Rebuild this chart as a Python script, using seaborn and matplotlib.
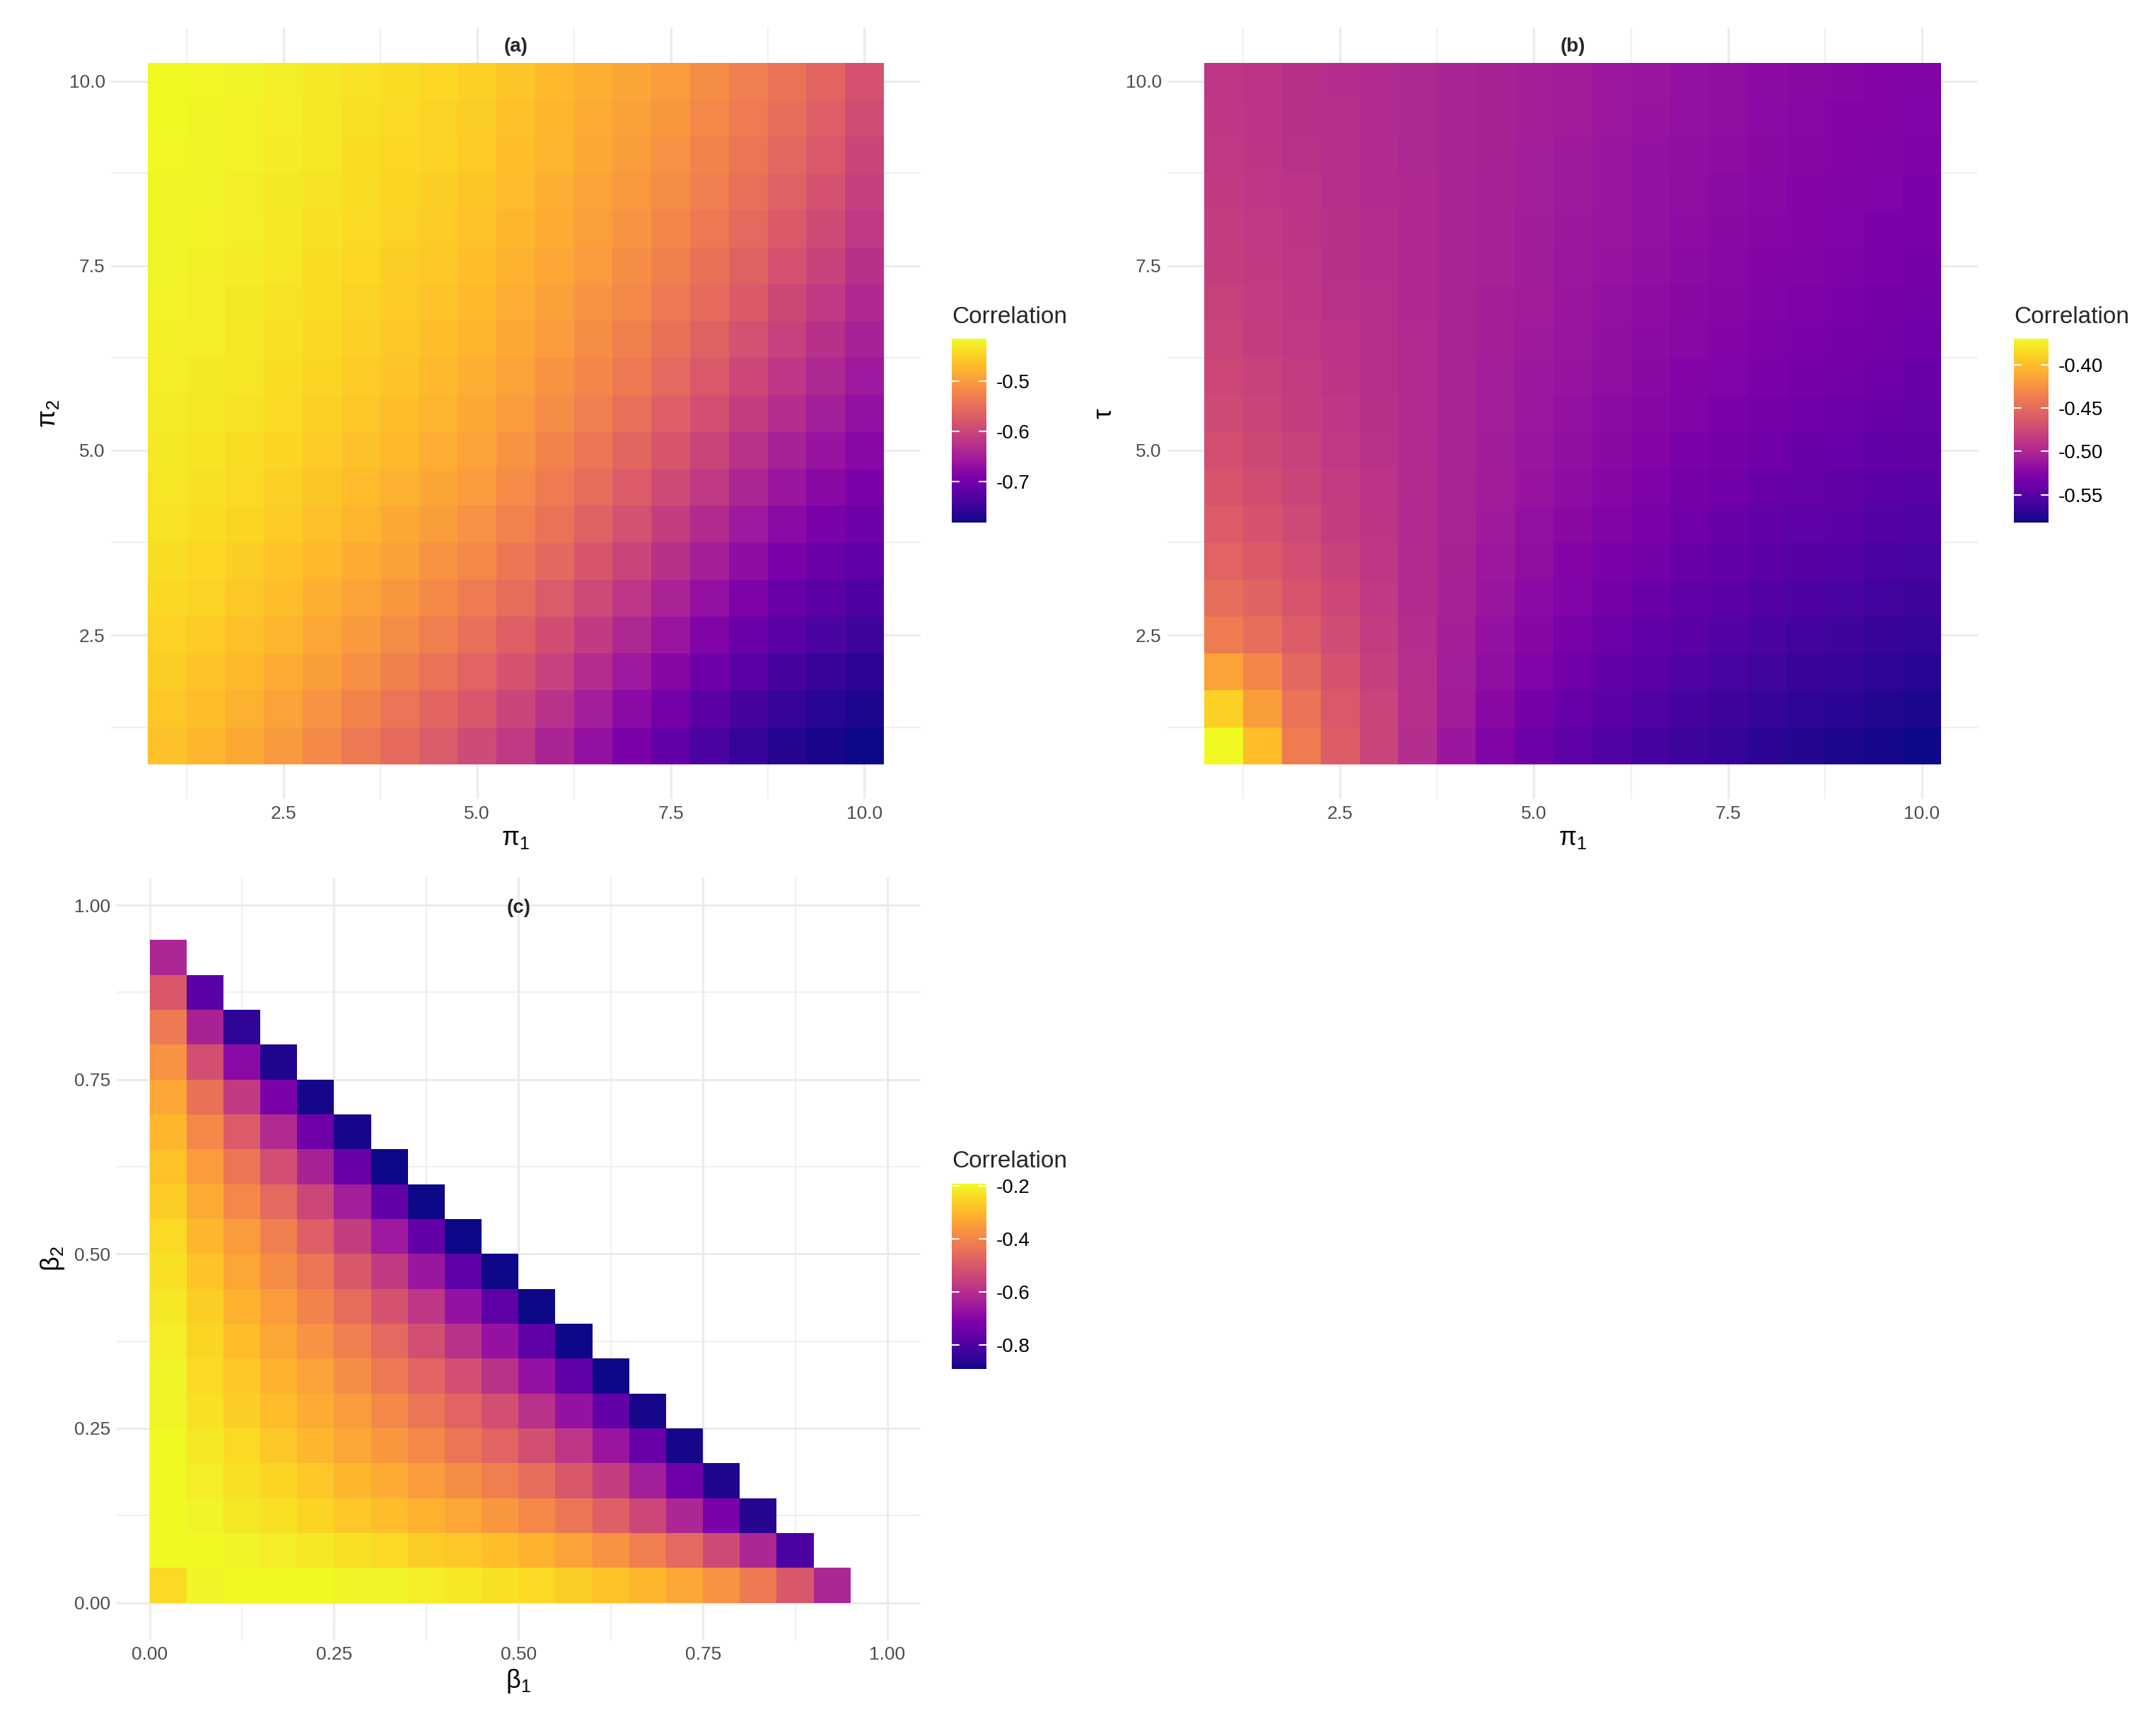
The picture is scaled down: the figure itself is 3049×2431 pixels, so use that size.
import numpy as np
import matplotlib
matplotlib.use("Agg")
import matplotlib.pyplot as plt
import seaborn as sns

sns.set_theme(style="white")
plt.rcParams['font.family'] = ['Liberation Sans', 'DejaVu Sans']

# ---------------- data ----------------
pi1_vals = [1.0 + 0.5 * k for k in range(19)]
pi2_vals = [1.0 + 0.5 * k for k in range(19)]
tau_vals = [1.0 + 0.5 * k for k in range(19)]

# panel (a): rows = pi2 from 1 to 10, cols = pi1 from 1 to 10
corr_a = [
 [-.463,-.473,-.486,-.502,-.519,-.537,-.555,-.574,-.593,-.617,-.642,-.668,-.693,-.716,-.737,-.754,-.767,-.776,-.782],
 [-.458,-.467,-.479,-.493,-.509,-.525,-.542,-.560,-.578,-.600,-.625,-.651,-.676,-.700,-.722,-.740,-.754,-.765,-.773],
 [-.453,-.461,-.471,-.484,-.498,-.513,-.529,-.545,-.562,-.583,-.607,-.632,-.657,-.682,-.705,-.724,-.740,-.752,-.762],
 [-.448,-.455,-.464,-.476,-.489,-.502,-.516,-.531,-.547,-.567,-.589,-.613,-.638,-.663,-.687,-.707,-.724,-.737,-.748],
 [-.443,-.449,-.457,-.468,-.480,-.492,-.505,-.519,-.533,-.552,-.573,-.595,-.619,-.644,-.668,-.690,-.708,-.722,-.734],
 [-.439,-.444,-.451,-.461,-.472,-.483,-.495,-.508,-.521,-.539,-.558,-.579,-.602,-.626,-.650,-.673,-.692,-.707,-.720],
 [-.435,-.440,-.446,-.455,-.465,-.475,-.486,-.498,-.510,-.527,-.545,-.565,-.586,-.609,-.633,-.656,-.676,-.692,-.706],
 [-.432,-.436,-.442,-.450,-.459,-.469,-.479,-.490,-.501,-.517,-.534,-.552,-.572,-.594,-.617,-.640,-.661,-.678,-.693],
 [-.429,-.433,-.438,-.446,-.454,-.463,-.472,-.482,-.493,-.508,-.524,-.541,-.559,-.580,-.602,-.625,-.646,-.664,-.680],
 [-.427,-.430,-.435,-.442,-.450,-.458,-.467,-.476,-.486,-.500,-.515,-.531,-.548,-.567,-.588,-.611,-.632,-.651,-.668],
 [-.425,-.428,-.432,-.439,-.446,-.454,-.462,-.471,-.480,-.493,-.507,-.522,-.538,-.556,-.576,-.598,-.619,-.638,-.657],
 [-.423,-.426,-.430,-.436,-.443,-.450,-.458,-.466,-.475,-.487,-.500,-.514,-.529,-.546,-.565,-.586,-.607,-.626,-.646],
 [-.421,-.424,-.428,-.434,-.440,-.447,-.454,-.462,-.470,-.482,-.494,-.507,-.521,-.537,-.555,-.575,-.596,-.615,-.636],
 [-.420,-.423,-.427,-.432,-.438,-.444,-.451,-.458,-.466,-.477,-.489,-.501,-.514,-.529,-.546,-.565,-.585,-.604,-.626],
 [-.419,-.421,-.425,-.430,-.436,-.442,-.448,-.455,-.462,-.473,-.484,-.496,-.508,-.522,-.538,-.556,-.575,-.594,-.617],
 [-.418,-.420,-.424,-.429,-.434,-.440,-.446,-.452,-.459,-.469,-.480,-.491,-.503,-.516,-.531,-.548,-.566,-.585,-.608],
 [-.417,-.419,-.422,-.427,-.432,-.438,-.444,-.449,-.456,-.466,-.476,-.487,-.498,-.510,-.525,-.541,-.558,-.576,-.600],
 [-.416,-.418,-.421,-.426,-.431,-.436,-.442,-.447,-.453,-.463,-.473,-.483,-.494,-.505,-.520,-.535,-.551,-.568,-.592],
 [-.415,-.417,-.420,-.425,-.430,-.435,-.440,-.445,-.450,-.460,-.470,-.480,-.490,-.500,-.515,-.530,-.545,-.560,-.585],
]

# panel (b): rows = tau from 1 to 10, cols = pi1 from 1 to 10
corr_b = [
 [-.370,-.400,-.438,-.460,-.478,-.495,-.512,-.527,-.538,-.546,-.553,-.558,-.563,-.567,-.571,-.574,-.577,-.579,-.582],
 [-.390,-.418,-.445,-.463,-.478,-.493,-.508,-.522,-.533,-.541,-.548,-.553,-.558,-.562,-.566,-.569,-.572,-.575,-.577],
 [-.415,-.432,-.452,-.467,-.481,-.494,-.506,-.518,-.528,-.536,-.543,-.548,-.553,-.557,-.561,-.564,-.567,-.570,-.572],
 [-.438,-.448,-.460,-.472,-.484,-.495,-.505,-.515,-.524,-.532,-.538,-.544,-.548,-.552,-.556,-.559,-.562,-.565,-.567],
 [-.448,-.456,-.466,-.476,-.486,-.496,-.504,-.512,-.521,-.528,-.534,-.539,-.544,-.548,-.551,-.554,-.557,-.560,-.562],
 [-.455,-.462,-.470,-.479,-.488,-.496,-.503,-.510,-.518,-.525,-.530,-.535,-.540,-.543,-.547,-.550,-.552,-.555,-.557],
 [-.461,-.467,-.474,-.482,-.489,-.496,-.502,-.509,-.516,-.522,-.527,-.532,-.536,-.540,-.543,-.546,-.548,-.551,-.553],
 [-.466,-.471,-.477,-.484,-.490,-.496,-.502,-.508,-.514,-.519,-.524,-.529,-.533,-.536,-.539,-.542,-.545,-.547,-.549],
 [-.470,-.475,-.480,-.486,-.491,-.497,-.502,-.507,-.512,-.517,-.522,-.526,-.530,-.533,-.536,-.539,-.541,-.543,-.545],
 [-.473,-.478,-.482,-.487,-.492,-.497,-.501,-.506,-.511,-.515,-.520,-.524,-.527,-.530,-.533,-.536,-.538,-.540,-.542],
 [-.476,-.480,-.484,-.489,-.493,-.497,-.501,-.506,-.510,-.514,-.518,-.522,-.525,-.528,-.531,-.533,-.535,-.537,-.539],
 [-.478,-.482,-.486,-.490,-.494,-.497,-.501,-.505,-.509,-.513,-.517,-.520,-.523,-.526,-.529,-.531,-.533,-.535,-.537],
 [-.480,-.484,-.487,-.491,-.494,-.498,-.501,-.505,-.508,-.512,-.515,-.519,-.522,-.524,-.527,-.529,-.531,-.533,-.535],
 [-.482,-.485,-.488,-.492,-.495,-.498,-.501,-.504,-.507,-.511,-.514,-.517,-.520,-.523,-.525,-.527,-.529,-.531,-.533],
 [-.483,-.486,-.489,-.492,-.495,-.498,-.501,-.504,-.507,-.510,-.513,-.516,-.519,-.522,-.524,-.526,-.528,-.530,-.531],
 [-.485,-.488,-.490,-.493,-.496,-.498,-.501,-.504,-.506,-.509,-.512,-.515,-.518,-.520,-.523,-.525,-.527,-.528,-.530],
 [-.486,-.489,-.491,-.494,-.496,-.499,-.501,-.503,-.506,-.509,-.512,-.515,-.517,-.519,-.522,-.524,-.526,-.527,-.529],
 [-.487,-.490,-.492,-.494,-.497,-.499,-.501,-.503,-.505,-.508,-.511,-.514,-.516,-.518,-.521,-.523,-.525,-.526,-.528],
 [-.488,-.490,-.492,-.495,-.497,-.499,-.501,-.503,-.505,-.508,-.511,-.513,-.515,-.517,-.520,-.522,-.524,-.525,-.527],
]

# panel (c): beta grid (cell centres), rows = beta2, only cells with beta1 + beta2 < 1
beta1_vals = [0.025 + 0.05 * k for k in range(20)]
beta2_vals = [0.025 + 0.05 * k for k in range(20)]
corr_c_rows = [
 [-.24,-.20,-.19,-.19,-.19,-.20,-.20,-.21,-.22,-.23,-.24,-.26,-.28,-.30,-.33,-.37,-.42,-.50,-.62],
 [-.19,-.19,-.20,-.21,-.22,-.23,-.24,-.26,-.27,-.29,-.31,-.34,-.37,-.41,-.46,-.53,-.62,-.80],
 [-.19,-.20,-.22,-.23,-.25,-.27,-.29,-.31,-.33,-.36,-.39,-.43,-.48,-.54,-.62,-.72,-.86],
 [-.19,-.21,-.23,-.25,-.27,-.30,-.32,-.35,-.38,-.41,-.45,-.50,-.56,-.64,-.74,-.87],
 [-.19,-.22,-.24,-.27,-.30,-.33,-.36,-.39,-.43,-.47,-.52,-.58,-.66,-.75,-.88],
 [-.20,-.23,-.26,-.29,-.32,-.35,-.39,-.43,-.47,-.52,-.59,-.67,-.76,-.88],
 [-.20,-.24,-.27,-.31,-.34,-.38,-.42,-.47,-.52,-.59,-.67,-.77,-.89],
 [-.21,-.25,-.29,-.33,-.37,-.41,-.46,-.52,-.59,-.67,-.77,-.89],
 [-.22,-.26,-.31,-.35,-.40,-.45,-.51,-.58,-.67,-.77,-.89],
 [-.23,-.28,-.33,-.38,-.43,-.50,-.57,-.66,-.77,-.89],
 [-.24,-.30,-.35,-.41,-.48,-.56,-.65,-.76,-.89],
 [-.26,-.32,-.39,-.46,-.54,-.64,-.76,-.89],
 [-.28,-.35,-.43,-.52,-.63,-.75,-.89],
 [-.30,-.39,-.49,-.61,-.74,-.88],
 [-.33,-.44,-.57,-.72,-.88],
 [-.37,-.52,-.69,-.87],
 [-.42,-.63,-.85],
 [-.50,-.78],
 [-.62],
]

# ---------------- drawing ----------------
W, H = 3049, 2431
fig = plt.figure(figsize=(W / 100, H / 100), dpi=100)
cmap = sns.color_palette("plasma", as_cmap=True)
TICKC = "#4d4d4d"
GRIDC = "#ebebeb"

def edges(c):
    c = np.asarray(c, float)
    h = (c[1] - c[0]) / 2
    return np.concatenate([c - h, [c[-1] + h]])

def style_axes(ax, xt, yt, xl, yl, fmt, xlim, ylim):
    ax.set_xlim(*xlim); ax.set_ylim(*ylim)
    ax.set_xticks(xt); ax.set_yticks(yt)
    ax.set_xticklabels([fmt.format(v) for v in xt])
    ax.set_yticklabels([fmt.format(v) for v in yt])
    mx = [(a + b) / 2 for a, b in zip(xt[:-1], xt[1:])]
    my = [(a + b) / 2 for a, b in zip(yt[:-1], yt[1:])]
    mx = [xt[0] - (xt[1] - xt[0]) / 2] + mx
    my = [yt[0] - (yt[1] - yt[0]) / 2] + my
    ax.set_xticks([v for v in mx if xlim[0] < v < xlim[1]], minor=True)
    ax.set_yticks([v for v in my if ylim[0] < v < ylim[1]], minor=True)
    ax.grid(True, which='major', color=GRIDC, lw=2.2, zorder=0)
    ax.grid(True, which='minor', color=GRIDC, lw=1.1, zorder=0)
    ax.set_axisbelow(True)
    ax.tick_params(which='both', length=0, labelsize=19, colors=TICKC, pad=6)
    for s in ax.spines.values():
        s.set_visible(False)
    ax.set_xlabel(xl, fontsize=26, color='black', labelpad=4)
    ax.set_ylabel(yl, fontsize=26, color='black', labelpad=8)

def add_cbar(mesh, rect, ticks, fmt):
    cax = fig.add_axes(rect)
    cb = fig.colorbar(mesh, cax=cax)
    cb.outline.set_visible(False)
    cb.set_ticks(ticks)
    cb.set_ticklabels([fmt.format(t) for t in ticks])
    cax.tick_params(length=0, labelsize=20, colors='black', pad=10)
    for t in ticks:
        cax.plot([0, 0.2], [t, t], color='white', lw=1.5, transform=cax.get_yaxis_transform())
        cax.plot([0.8, 1.0], [t, t], color='white', lw=1.5, transform=cax.get_yaxis_transform())
    cax.set_title("Correlation", loc='left', fontsize=24, pad=16, x=0.0)
    return cb

lim10 = (0.75 - 0.475, 10.25 + 0.475)
t10 = [2.5, 5.0, 7.5, 10.0]

# (a)
ax_a = fig.add_axes([0.0515, 0.535, 0.3755, 0.449])
A = np.array(corr_a)
m_a = ax_a.pcolormesh(edges(pi1_vals), edges(pi2_vals), A, cmap=cmap,
                      vmin=A.min(), vmax=A.max(), shading='flat', zorder=2)
style_axes(ax_a, t10, t10, r'$\mathregular{\pi_1}$', r'$\mathregular{\pi_2}$', "{:.1f}", lim10, lim10)
ax_a.text(0.5, 0.975, "(a)", transform=ax_a.transAxes, ha='center', va='center',
          fontsize=20, fontweight='bold')
add_cbar(m_a, [0.4415, 0.696, 0.016, 0.107], [-0.5, -0.6, -0.7], "{:.1f}")

# (b)
ax_b = fig.add_axes([0.5415, 0.535, 0.376, 0.449])
B = np.array(corr_b)
m_b = ax_b.pcolormesh(edges(pi1_vals), edges(tau_vals), B, cmap=cmap,
                      vmin=B.min(), vmax=B.max(), shading='flat', zorder=2)
style_axes(ax_b, t10, t10, r'$\mathregular{\pi_1}$', r'$\mathregular{\tau}$', "{:.1f}", lim10, lim10)
ax_b.text(0.5, 0.975, "(b)", transform=ax_b.transAxes, ha='center', va='center',
          fontsize=20, fontweight='bold')
add_cbar(m_b, [0.934, 0.696, 0.016, 0.107], [-0.40, -0.45, -0.50, -0.55], "{:.2f}")

# (c)
ax_c = fig.add_axes([0.054, 0.0457, 0.373, 0.444])
C = np.full((len(beta2_vals), len(beta1_vals)), np.nan)
for j, row in enumerate(corr_c_rows):
    for i, v in enumerate(row):
        C[j, i] = v
Cm = np.ma.masked_invalid(C)
m_c = ax_c.pcolormesh(edges(beta1_vals), edges(beta2_vals), Cm, cmap=cmap,
                      vmin=np.nanmin(C), vmax=np.nanmax(C), shading='flat', zorder=2)
t1 = [0.0, 0.25, 0.5, 0.75, 1.0]
style_axes(ax_c, t1, t1, r'$\mathregular{\beta_1}$', r'$\mathregular{\beta_2}$', "{:.2f}",
           (-0.045, 1.045), (-0.054, 1.04))
ax_c.text(0.5, 0.96, "(c)", transform=ax_c.transAxes, ha='center', va='center',
          fontsize=20, fontweight='bold')
add_cbar(m_c, [0.4415, 0.2036, 0.016, 0.108], [-0.2, -0.4, -0.6, -0.8], "{:.1f}")

fig.savefig("out.png", dpi=100, facecolor='white')
